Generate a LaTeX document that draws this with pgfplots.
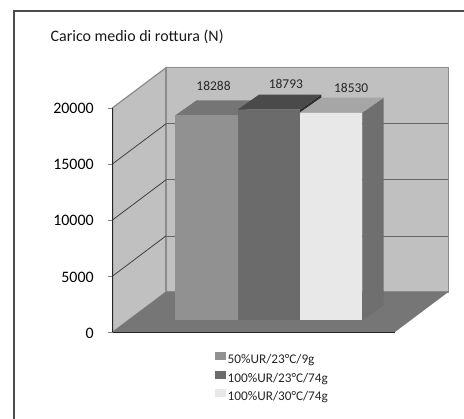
\documentclass[border=0pt]{standalone}
\usepackage{fontspec}
\setmainfont{Carlito}
\usepackage{pgfplots}
\pgfplotsset{compat=1.18}
\definecolor{wall}{HTML}{C0C0C0}
\definecolor{wallline}{HTML}{8C8C8C}
\definecolor{gridc}{HTML}{666666}
\definecolor{floorc}{HTML}{767676}
\definecolor{barA}{HTML}{919191}
\definecolor{barAtop}{HTML}{757575}
\definecolor{barB}{HTML}{6B6B6B}
\definecolor{barBtop}{HTML}{4A4A4A}
\definecolor{barBside}{HTML}{2E2E2E}
\definecolor{barC}{HTML}{E8E8E8}
\definecolor{barCtop}{HTML}{A6A6A6}
\definecolor{barCside}{HTML}{6F6F6F}
\pgfplotsset{
	barstyle/.style={ybar,bar width=1,bar shift=0pt,draw=none,xshift=15bp,yshift=11.6bp,
		nodes near coords,
		every node near coord/.append style={font=\fontsize{13.5}{14}\selectfont,text=black!85,anchor=center,xshift=#1},
	},
	face/.style={fill=#1,draw=none,xshift=15bp,yshift=11.6bp,forget plot},
}
\begin{document}
\begin{tikzpicture}
\useasboundingbox (0,0) rectangle (464bp,419bp);
\fill[white] (0,0) rectangle (464bp,419bp);
\draw[black!70,line width=1.5bp] (14bp,-1bp) -- (14bp,408bp) -- (465bp,408bp);
\begin{axis}[
	at={(112.7bp,87bp)},anchor=south west,
	scale only axis,width=282.3bp,height=224.3bp,
	xmin=-1.2646,xmax=3.2646,ymin=0,ymax=20000,
	clip=false,axis on top,
	axis y line=left,axis x line=bottom,
	axis line style={-,black!85,line width=1bp},
	xtick=\empty,ytick={0,5000,10000,15000,20000},
	scaled y ticks=false,
	/pgf/number format/assume math mode=true,
	/pgf/number format/1000 sep={},
	tick align=outside,major tick length=5bp,
	tick style={black!50},
	tick label style={font=\fontsize{16}{17}\selectfont},
	yticklabel style={xshift=-10.5bp,yshift=-1bp},
	legend style={at={(0.35,-0.08)},anchor=north west,draw=none,fill=none,
		font=\fontsize{13.3}{14}\selectfont,text=black!85,row sep=3.5bp,
		/tikz/every even column/.style={column sep=2bp}},
	legend cell align=left,
	legend image code/.code={\fill[#1] (-3.5bp,-12bp) rectangle (7.5bp,-4bp);},
]
% muri e pavimento
\addplot[fill=wall,draw=wallline,line width=1.2bp,forget plot] coordinates {(-1.2646,0) (-0.4095,3567) (-0.4095,23567) (-1.2646,20000)} -- cycle;
\addplot[fill=wall,draw=wallline,line width=1.2bp,forget plot] coordinates {(-0.4095,3567) (4.1196,3567) (4.1196,23567) (-0.4095,23567)} -- cycle;
\addplot[fill=floorc,draw=none,forget plot] coordinates {(-1.2646,0) (3.2646,0) (4.1196,3567) (-0.4095,3567)} -- cycle;
% griglia
\addplot[gridc,line width=0.7bp,forget plot] coordinates {(-0.4095,8567) (4.1196,8567)};
\addplot[gridc,line width=0.7bp,forget plot] coordinates {(-0.4095,13567) (4.1196,13567)};
\addplot[gridc,line width=0.7bp,forget plot] coordinates {(-0.4095,18567) (4.1196,18567)};
\addplot[black!75,line width=0.8bp,forget plot] coordinates {(-1.2646,5000) (-0.4095,8567)};
\addplot[black!75,line width=0.8bp,forget plot] coordinates {(-1.2646,10000) (-0.4095,13567)};
\addplot[black!75,line width=0.8bp,forget plot] coordinates {(-1.2646,15000) (-0.4095,18567)};
% barra 1
\addplot[face=barAtop] coordinates {(-0.5,18288) (0.5,18288) (0.842,19625) (-0.158,19625)} -- cycle;
\addplot[barstyle=7bp,fill=barA,every node near coord/.append style={yshift=29bp}] coordinates {(0,18288)};
\addlegendentry{50\%UR/23°C/9g}
% barra 2
\addplot[face=barBside] coordinates {(1.5,18530) (1.842,19867) (1.842,20130) (1.5,18793)} -- cycle;
\addplot[face=barBtop] coordinates {(0.5,18793) (1.5,18793) (1.842,20130) (0.842,20130)} -- cycle;
\addplot[barstyle=17bp,fill=barB,every node near coord/.append style={yshift=26bp}] coordinates {(1,18793)};
\addlegendentry{100\%UR/23°C/74g}
% barra 3
\addplot[face=barCside] coordinates {(2.5,0) (2.842,1337) (2.842,19867) (2.5,18530)} -- cycle;
\addplot[face=barCtop] coordinates {(1.5,18530) (2.5,18530) (2.842,19867) (1.842,19867)} -- cycle;
\addplot[barstyle=20bp,fill=barC,every node near coord/.append style={yshift=25bp}] coordinates {(2,18530)};
\addlegendentry{100\%UR/30°C/74g}
\end{axis}
\node[anchor=base west,inner sep=0pt,font=\fontsize{16}{17}\selectfont,text=black!90] at (50.5bp,377.5bp) {Carico medio di rottura (N)};
\end{tikzpicture}
\end{document}
